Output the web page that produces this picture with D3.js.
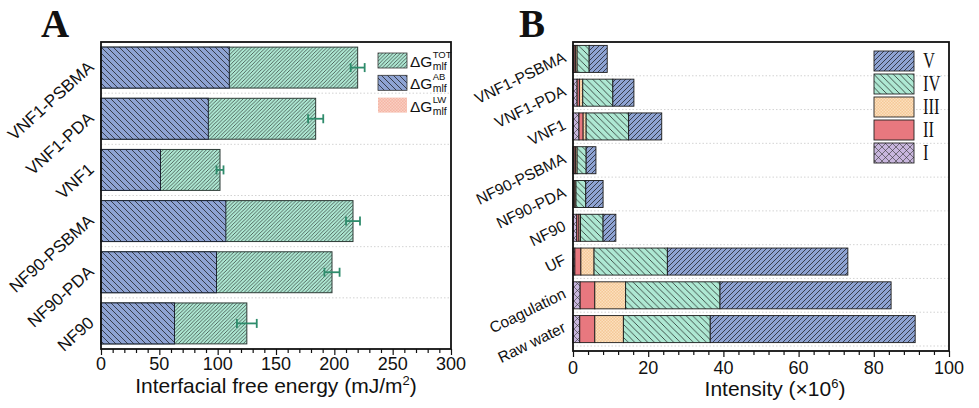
<!DOCTYPE html>
<html><head><meta charset="utf-8">
<script src="https://cdn.jsdelivr.net/npm/d3@7"></script>
<style>
html,body{margin:0;padding:0;background:#fff;}
svg{display:block;font-family:"Liberation Sans",Arial,sans-serif;}
</style></head>
<body>
<svg id="c" width="979" height="408"></svg>
<script>
// ---------- Panel A data ----------
const catsA = ["VNF1-PSBMA","VNF1-PDA","VNF1","NF90-PSBMA","NF90-PDA","NF90"];
const abA   = [110, 92, 51, 107, 99, 63];
const totA  = [220, 184, 102, 216, 198, 125];
const errA  = [6, 6.5, 3, 6, 6.5, 8.5];
const ticksA = [0, 50, 100, 150, 200, 250, 300];
const legendA = [["TOT","tot"],["AB","ab"],["LW","lw"]];

// ---------- Panel B data ----------
const catsB = ["VNF1-PSBMA","VNF1-PDA","VNF1","NF90-PSBMA","NF90-PDA","NF90","UF","Coagulation","Raw water"];
const regI   = [0.3, 1.1, 1.6, 0.3, 0.2, 1.0, 0.5, 1.9, 1.8];
const regII  = [0.4, 0.6, 1.1, 0.4, 0.3, 0.6, 1.6, 3.9, 4.0];
const regIII = [0.4, 0.9, 0.8, 0.4, 0.3, 0.4, 3.5, 8.2, 7.6];
const regIV  = [3.2, 8.0, 11.3, 2.4, 2.6, 6.0, 19.5, 25.1, 23.1];
const regV   = [4.8, 5.6, 8.8, 2.6, 4.6, 3.4, 48.0, 45.5, 54.5];
const regionNames = ["I","II","III","IV","V"];
const ticksB = [0, 20, 40, 60, 80, 100];

const svg = d3.select("#c");
const defs = svg.append("defs");

function hatch(id, fill, dir, gap, sw, color) {
  const p = defs.append("pattern").attr("id", id).attr("patternUnits","userSpaceOnUse")
    .attr("width", gap).attr("height", gap);
  p.append("rect").attr("width", gap).attr("height", gap).attr("fill", fill);
  const g = p.append("g").attr("stroke", color || "#111").attr("stroke-width", sw);
  if (dir === "/" || dir === "x") {
    g.append("line").attr("x1",0).attr("y1",gap).attr("x2",gap).attr("y2",0);
    g.append("line").attr("x1",-gap).attr("y1",gap).attr("x2",0).attr("y2",0);
    g.append("line").attr("x1",gap).attr("y1",gap).attr("x2",2*gap).attr("y2",0);
  }
  if (dir === "\\" || dir === "x") {
    g.append("line").attr("x1",0).attr("y1",0).attr("x2",gap).attr("y2",gap);
    g.append("line").attr("x1",-gap).attr("y1",0).attr("x2",0).attr("y2",gap);
    g.append("line").attr("x1",gap).attr("y1",0).attr("x2",2*gap).attr("y2",gap);
  }
}
function checker(id, fill, fill2, s) {
  const p = defs.append("pattern").attr("id", id).attr("patternUnits","userSpaceOnUse")
    .attr("width", 2*s).attr("height", 2*s);
  p.append("rect").attr("width", 2*s).attr("height", 2*s).attr("fill", fill);
  p.append("rect").attr("width", s).attr("height", s).attr("fill", fill2);
  p.append("rect").attr("x", s).attr("y", s).attr("width", s).attr("height", s).attr("fill", fill2);
}
const BLUE = "#8ea3d3", GREEN = "#aee8d3", ORANGE = "#f5c897", RED = "#e8787f", PURPLE = "#c8b6dd", PINK = "#f5b6a6";
hatch("pAB", BLUE, "\\", 6, 0.7);
hatch("pTOT", GREEN, "/", 3.6, 0.6);
checker("pLW", PINK, "#f9cfc2", 1.5);
hatch("pV", BLUE, "/", 5, 0.7);
hatch("pIV", GREEN, "\\", 6.5, 0.7);
checker("pIII", ORANGE, "#fbe0bf", 1.5);
defs.append("pattern").attr("id","pII").attr("patternUnits","userSpaceOnUse").attr("width",4).attr("height",4)
  .append("rect").attr("width",4).attr("height",4).attr("fill",RED);
hatch("pI", PURPLE, "x", 7, 0.6, "#333");

// ================= Panel A =================
const xA = d3.scaleLinear().domain([0, 300]).range([101, 451]);
const yA = d3.scaleBand().domain(catsA).range([42, 349]).paddingInner(0.2).paddingOuter(0.1);
const gA = svg.append("g");

catsA.slice(1).forEach(c => {
  const y = yA(c) - yA.step()*yA.paddingInner()/2;
  gA.append("line").attr("x1", xA(0)).attr("x2", xA(300)).attr("y1", y).attr("y2", y)
    .attr("stroke", "#c8c8c8").attr("stroke-width", 0.8).attr("stroke-dasharray", "1.5,2");
});

gA.selectAll(".tot").data(catsA).join("rect")
  .attr("x", xA(0)).attr("y", d => yA(d)).attr("height", yA.bandwidth())
  .attr("width", (d,i) => xA(totA[i]) - xA(0))
  .attr("fill", "url(#pTOT)").attr("stroke", "#2d3b36").attr("stroke-width", 1);
gA.selectAll(".ab").data(catsA).join("rect")
  .attr("x", xA(0)).attr("y", d => yA(d)).attr("height", yA.bandwidth())
  .attr("width", (d,i) => xA(abA[i]) - xA(0))
  .attr("fill", "url(#pAB)").attr("stroke", "#1d2433").attr("stroke-width", 1);

const ERR = "#2f8c6c";
catsA.forEach((c,i) => {
  const yc = yA(c) + yA.bandwidth()/2;
  const x1 = xA(totA[i]-errA[i]), x2 = xA(totA[i]+errA[i]);
  gA.append("line").attr("x1",x1).attr("x2",x2).attr("y1",yc).attr("y2",yc).attr("stroke",ERR).attr("stroke-width",1.8);
  [x1,x2].forEach(x => gA.append("line").attr("x1",x).attr("x2",x).attr("y1",yc-4.5).attr("y2",yc+4.5).attr("stroke",ERR).attr("stroke-width",1.8));
});

gA.append("rect").attr("x", 101).attr("y", 42).attr("width", 350).attr("height", 307)
  .attr("fill","none").attr("stroke","#111").attr("stroke-width",1.8);

const axA = gA.append("g").attr("transform","translate(0,349)")
  .call(d3.axisBottom(xA).tickValues(d3.range(0, 301, 10)).tickSize(4).tickFormat(""));
axA.select(".domain").remove();
axA.selectAll(".tick line").attr("stroke","#111").attr("stroke-width",1.2)
  .attr("y2", d => d % 50 === 0 ? 6 : 4);
gA.selectAll(".xtA").data(ticksA).join("text")
  .attr("x", d => xA(d)).attr("y", 370).attr("text-anchor","middle")
  .attr("font-size", 18).attr("fill","#111").text(d => d);
const tA = gA.append("text").attr("x", 276).attr("y", 393).attr("text-anchor","middle")
  .attr("font-size", 21).attr("fill","#111");
tA.append("tspan").text("Interfacial free energy (mJ/m");
tA.append("tspan").attr("font-size", 13).attr("dy", -8).text("2");
tA.append("tspan").attr("dy", 8).text(")");

gA.selectAll(".ylA").data(catsA).join("text")
  .attr("transform", d => `translate(${xA(0)-6},${yA(d)+yA.bandwidth()/2+1}) rotate(-42)`)
  .attr("text-anchor","end").attr("font-size", 17).attr("fill","#111").text(d => d);

svg.append("text").attr("x", 41).attr("y", 37).attr("font-family","'Liberation Serif',serif")
  .attr("font-weight","bold").attr("font-size", 39).attr("fill","#111").text("A");

legendA.forEach((L, i) => {
  const y0 = 53 + i*22.3;
  gA.append("rect").attr("x", 378).attr("y", y0).attr("width", 29).attr("height", 15)
    .attr("fill", `url(#p${L[0]})`).attr("stroke", L[0]==="LW" ? "none" : "#333").attr("stroke-width", 0.8);
  const t = gA.append("text").attr("x", 410).attr("y", y0+14).attr("font-size", 15.5).attr("fill","#111").text("ΔG");
  const w = t.node().getComputedTextLength();
  gA.append("text").attr("x", 410+w+0.3).attr("y", y0+5).attr("font-size", 9.5).attr("fill","#111").text(L[0]);
  gA.append("text").attr("x", 410+w+0.3).attr("y", y0+17).attr("font-size", 10.5).attr("fill","#111").text("mlf");
});

// ================= Panel B =================
const xB = d3.scaleLinear().domain([0, 100]).range([573, 949]);
const yB = d3.scaleBand().domain(catsB).range([42, 346]).paddingInner(0.2).paddingOuter(0.1);
const gB = svg.append("g");

catsB.slice(1).forEach(c => {
  const y = yB(c) - yB.step()*yB.paddingInner()/2;
  gB.append("line").attr("x1", xB(0)).attr("x2", xB(100)).attr("y1", y).attr("y2", y)
    .attr("stroke", "#c8c8c8").attr("stroke-width", 0.8).attr("stroke-dasharray", "1.5,2");
});
gB.append("line").attr("x1", xB(0)).attr("x2", xB(100)).attr("y1", 346).attr("y2", 346)
  .attr("stroke", "#c8c8c8").attr("stroke-width", 0.8).attr("stroke-dasharray", "1.5,2");

const series = [regI, regII, regIII, regIV, regV];
const pats = ["pI","pII","pIII","pIV","pV"];
catsB.forEach((c, ci) => {
  let acc = 0;
  series.forEach((s, si) => {
    const v = s[ci];
    gB.append("rect").attr("x", xB(acc)).attr("y", yB(c)).attr("height", yB.bandwidth())
      .attr("width", xB(acc+v) - xB(acc))
      .attr("fill", `url(#${pats[si]})`).attr("stroke", "#1a1a1a").attr("stroke-width", 0.9);
    acc += v;
  });
});

gB.append("rect").attr("x", 573).attr("y", 42).attr("width", 376).attr("height", 309)
  .attr("fill","none").attr("stroke","#111").attr("stroke-width",1.8);

const axB = gB.append("g").attr("transform","translate(0,351)")
  .call(d3.axisBottom(xB).tickValues(d3.range(0, 101, 4)).tickSize(4).tickFormat(""));
axB.select(".domain").remove();
axB.selectAll(".tick line").attr("stroke","#111").attr("stroke-width",1.2)
  .attr("y2", d => d % 20 === 0 ? 6 : 4);
gB.selectAll(".xtB").data(ticksB).join("text")
  .attr("x", d => xB(d)).attr("y", 374).attr("text-anchor","middle")
  .attr("font-size", 18).attr("fill","#111").text(d => d);
const tB = gB.append("text").attr("x", 775).attr("y", 396).attr("text-anchor","middle")
  .attr("font-size", 21).attr("fill","#111");
tB.append("tspan").text("Intensity (×10");
tB.append("tspan").attr("font-size", 13).attr("dy", -8).text("6");
tB.append("tspan").attr("dy", 8).text(")");

gB.selectAll(".ylB").data(catsB).join("text")
  .attr("transform", d => `translate(${xB(0)-6},${yB(d)+yB.bandwidth()/2+2}) rotate(-26)`)
  .attr("text-anchor","end").attr("font-size", 15.5).attr("fill","#111").text(d => d);

svg.append("text").attr("x", 519).attr("y", 37).attr("font-family","'Liberation Serif',serif")
  .attr("font-weight","bold").attr("font-size", 39).attr("fill","#111").text("B");

const legB = regionNames.slice().reverse();
const legPats = pats.slice().reverse();
legB.forEach((n, i) => {
  const y0 = 51 + i*23;
  gB.append("rect").attr("x", 874).attr("y", y0).attr("width", 40).attr("height", 20)
    .attr("fill", `url(#${legPats[i]})`).attr("stroke", "#222").attr("stroke-width", 0.9);
  gB.append("text").attr("transform", `translate(923,${y0+17}) scale(0.72,1)`)
    .attr("font-family","'Liberation Serif',serif").attr("font-size", 23).attr("fill","#111").text(n);
});
</script>
</body></html>
